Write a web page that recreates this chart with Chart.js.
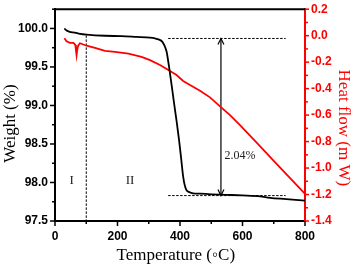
<!DOCTYPE html>
<html>
<head>
<meta charset="utf-8">
<title>TGA / heat flow</title>
<script src="https://cdn.jsdelivr.net/npm/chart.js@4.4.1/dist/chart.umd.min.js"></script>
<style>
    html, body { margin:0; padding:0; background:#fff; }
    #cnv-tga { display:block; }
</style>
</head>
<body>
<canvas id="cnv-tga" width="354" height="266"></canvas>
<script>
//--------------------------------------
// Data
//--------------------------------------
// weight curve (black, left axis)
var weightTemp = [30, 35, 45, 64, 80, 101, 160, 213, 260, 304, 320, 333, 343, 350, 357, 365, 373, 381, 389, 397, 404, 410, 416, 421, 430, 442, 464, 500, 528, 560, 600, 656, 688, 740, 800];
var weightVals = [100.00, 99.98, 99.96, 99.945, 99.93, 99.92, 99.905, 99.90, 99.89, 99.88, 99.87, 99.855, 99.83, 99.78, 99.70, 99.50, 99.27, 99.03, 98.80, 98.55, 98.30, 98.08, 97.95, 97.90, 97.875, 97.86, 97.855, 97.847, 97.842, 97.838, 97.832, 97.82, 97.80, 97.785, 97.765];

// heat flow curve (red, right axis)
var heatTemp = [30, 37, 48, 59, 65, 67, 69, 71, 74, 80, 101, 128, 160, 192, 235, 277, 304, 336, 368, 389, 410, 432, 464, 496, 528, 560, 592, 640, 700, 750, 800];
var heatVals = [-0.02, -0.043, -0.054, -0.055, -0.07, -0.11, -0.148, -0.11, -0.075, -0.057, -0.076, -0.093, -0.115, -0.123, -0.136, -0.16, -0.185, -0.222, -0.267, -0.297, -0.342, -0.372, -0.416, -0.466, -0.534, -0.60, -0.675, -0.795, -0.945, -1.07, -1.195];

// tick values
var xTickLabels = [0, 200, 400, 600, 800];
var xTickMinor = [100, 300, 500, 700];
var weightTickLabels = [97.5, 98.0, 98.5, 99.0, 99.5, 100.0];
var weightTickMinor = [97.75, 98.25, 98.75, 99.25, 99.75, 100.25];
var heatTickLabels = [-1.4, -1.2, -1.0, -0.8, -0.6, -0.4, -0.2, 0.0, 0.2];
var heatTickMinor = [-1.3, -1.1, -0.9, -0.7, -0.5, -0.3, -0.1, 0.1];

// annotation values
var stageBorderTemp = [100, 100];
var stageBorderWeight = [99.91, 97.5];
var stepTemp = [362, 738];
var stepWeightTop = [99.87, 99.87];
var stepWeightBottom = [97.83, 97.83];
var arrowTemp = [531, 531];
var arrowWeight = [99.87, 97.83];
var stepText = '2.04%';
var stageNames = ['I', 'II'];
var stageNameTemp = [53, 240];

//--------------------------------------
// Helpers
//--------------------------------------
var toPoints = function(xs, ys){
    var pts = [];
    for(var i = 0; i < xs.length; i++){
        pts.push({x: xs[i], y: ys[i]});
    }
    return pts;
};

var near = function(list, v){
    for(var i = 0; i < list.length; i++){
        if(Math.abs(list[i] - v) < 1e-6) return true;
    }
    return false;
};

var setTicks = function(major, minor){
    return function(scale){
        var all = major.concat(minor).sort(function(a, b){ return a - b; });
        scale.ticks = all.map(function(v){ return {value: v}; });
    };
};

var dashLine = function(xs, ys){
    return {
        data: toPoints(xs, ys),
        yAxisID: 'y',
        borderColor: '#000',
        borderWidth: 1,
        borderDash: [2.5, 1.5],
        pointRadius: 0,
        order: 5
    };
};

//--------------------------------------
// Plugin: frame, tick marks, arrow heads, texts
//--------------------------------------
var extrasPlugin = {
    id: 'extras',
    afterDraw: function(chart){
        var ctx = chart.ctx;
        var area = chart.chartArea;
        var sx = chart.scales.x, sy = chart.scales.y, sy1 = chart.scales.y1;

        ctx.save();

        // top frame
        ctx.strokeStyle = '#000';
        ctx.lineWidth = 2;
        ctx.beginPath();
        ctx.moveTo(area.left - 1, area.top);
        ctx.lineTo(area.right, area.top);
        ctx.stroke();

        // tick marks (major long, minor short)
        ctx.lineWidth = 1.5;
        sx.ticks.forEach(function(t){
            var px = sx.getPixelForValue(t.value);
            var len = near(xTickLabels, t.value) ? 5 : 3;
            ctx.strokeStyle = '#000';
            ctx.beginPath();
            ctx.moveTo(px, area.bottom);
            ctx.lineTo(px, area.bottom + len);
            ctx.stroke();
        });
        sy.ticks.forEach(function(t){
            var py = sy.getPixelForValue(t.value);
            var len = near(weightTickLabels, t.value) ? 5 : 3;
            ctx.strokeStyle = '#000';
            ctx.beginPath();
            ctx.moveTo(area.left - len, py);
            ctx.lineTo(area.left, py);
            ctx.stroke();
        });
        sy1.ticks.forEach(function(t){
            var py = sy1.getPixelForValue(t.value);
            var len = near(heatTickLabels, t.value) ? 4 : 3;
            ctx.strokeStyle = '#ff0000';
            ctx.beginPath();
            ctx.moveTo(area.right, py);
            ctx.lineTo(area.right + len, py);
            ctx.stroke();
        });

        // arrow heads
        var ax = sx.getPixelForValue(arrowTemp[0]);
        var aTop = sy.getPixelForValue(arrowWeight[0]);
        var aBot = sy.getPixelForValue(arrowWeight[1]);
        ctx.strokeStyle = '#000';
        ctx.lineWidth = 1.2;
        ctx.beginPath();
        ctx.moveTo(ax - 3, aTop + 6);
        ctx.lineTo(ax, aTop);
        ctx.lineTo(ax + 3, aTop + 6);
        ctx.moveTo(ax - 3, aBot - 6);
        ctx.lineTo(ax, aBot);
        ctx.lineTo(ax + 3, aBot - 6);
        ctx.stroke();

        // texts
        ctx.fillStyle = '#222';
        ctx.font = '12px "Liberation Serif"';
        ctx.textAlign = 'center';
        ctx.textBaseline = 'middle';
        ctx.fillText(stepText, sx.getPixelForValue(592), sy.getPixelForValue(98.35));
        ctx.font = '13px "Liberation Serif"';
        for(var i = 0; i < stageNames.length; i++){
            ctx.fillText(stageNames[i], sx.getPixelForValue(stageNameTemp[i]), sy.getPixelForValue(98.03));
        }

        ctx.restore();
    }
};

//--------------------------------------
// Chart
//--------------------------------------
var setChart = function(){
    var cnv = document.getElementById('cnv-tga');
    var tickFont = {family: '"Liberation Sans", Arial, sans-serif', size: 12, weight: 'bold'};
    var titleFont = {family: '"Liberation Serif", "Times New Roman", serif', size: 17};

    var chart = new Chart(cnv, {
        type: 'line',
        data: {
            datasets: [
                {
                    data: toPoints(weightTemp, weightVals),
                    yAxisID: 'y',
                    borderColor: '#000',
                    borderWidth: 1.8,
                    pointRadius: 0,
                    cubicInterpolationMode: 'monotone',
                    order: 0
                },
                {
                    data: toPoints(heatTemp, heatVals),
                    yAxisID: 'y1',
                    borderColor: '#ff0000',
                    borderWidth: 1.8,
                    pointRadius: 0,
                    order: 1
                },
                dashLine(stageBorderTemp, stageBorderWeight),
                dashLine(stepTemp, stepWeightTop),
                dashLine(stepTemp, stepWeightBottom),
                {
                    data: toPoints(arrowTemp, arrowWeight),
                    yAxisID: 'y',
                    borderColor: '#000',
                    borderWidth: 1.2,
                    pointRadius: 0,
                    order: 4
                }
            ]
        },
        options: {
            responsive: false,
            animation: false,
            parsing: false,
            layout: {padding: {top: 7, left: 0, right: 0, bottom: 0}},
            plugins: {legend: {display: false}, tooltip: {enabled: false}},
            scales: {
                x: {
                    type: 'linear',
                    min: 0,
                    max: 800,
                    afterBuildTicks: setTicks(xTickLabels, xTickMinor),
                    afterFit: function(s){ s.height = 45; },
                    grid: {drawOnChartArea: false, tickLength: 5, tickColor: 'rgba(0,0,0,0)'},
                    border: {color: '#000', width: 2},
                    ticks: {
                        color: '#000', font: tickFont, padding: 3, maxRotation: 0, autoSkip: false,
                        callback: function(v){ return near(xTickLabels, v) ? String(v) : ''; }
                    },
                    title: {display: true, text: 'Temperature (\u25e6C)  ', color: '#000', font: titleFont, padding: 0}
                },
                y: {
                    type: 'linear',
                    position: 'left',
                    min: 97.5,
                    max: 100.25,
                    afterBuildTicks: setTicks(weightTickLabels, weightTickMinor),
                    afterFit: function(s){ s.width = 55; },
                    grid: {drawOnChartArea: false, tickLength: 5, tickColor: 'rgba(0,0,0,0)'},
                    border: {color: '#000', width: 2},
                    ticks: {
                        color: '#000', font: tickFont, padding: 2, autoSkip: false,
                        callback: function(v){ return near(weightTickLabels, v) ? v.toFixed(1) : ''; }
                    },
                    title: {display: true, text: 'Weight (%)    ', color: '#000', font: titleFont, padding: 0}
                },
                y1: {
                    type: 'linear',
                    position: 'right',
                    min: -1.4,
                    max: 0.2,
                    afterBuildTicks: setTicks(heatTickLabels, heatTickMinor),
                    afterFit: function(s){ s.width = 49; },
                    grid: {drawOnChartArea: false, tickLength: 4, tickColor: 'rgba(0,0,0,0)'},
                    border: {color: '#ff0000', width: 2},
                    ticks: {
                        color: '#ff0000', font: tickFont, padding: 2, autoSkip: false,
                        callback: function(v){ return near(heatTickLabels, v) ? v.toFixed(1) : ''; }
                    },
                    title: {display: true, text: '      Heat flow (m W)', color: '#ff0000', font: titleFont, padding: 0}
                }
            }
        },
        plugins: [extrasPlugin]
    });
    return chart;
};

setChart();
</script>
</body>
</html>
